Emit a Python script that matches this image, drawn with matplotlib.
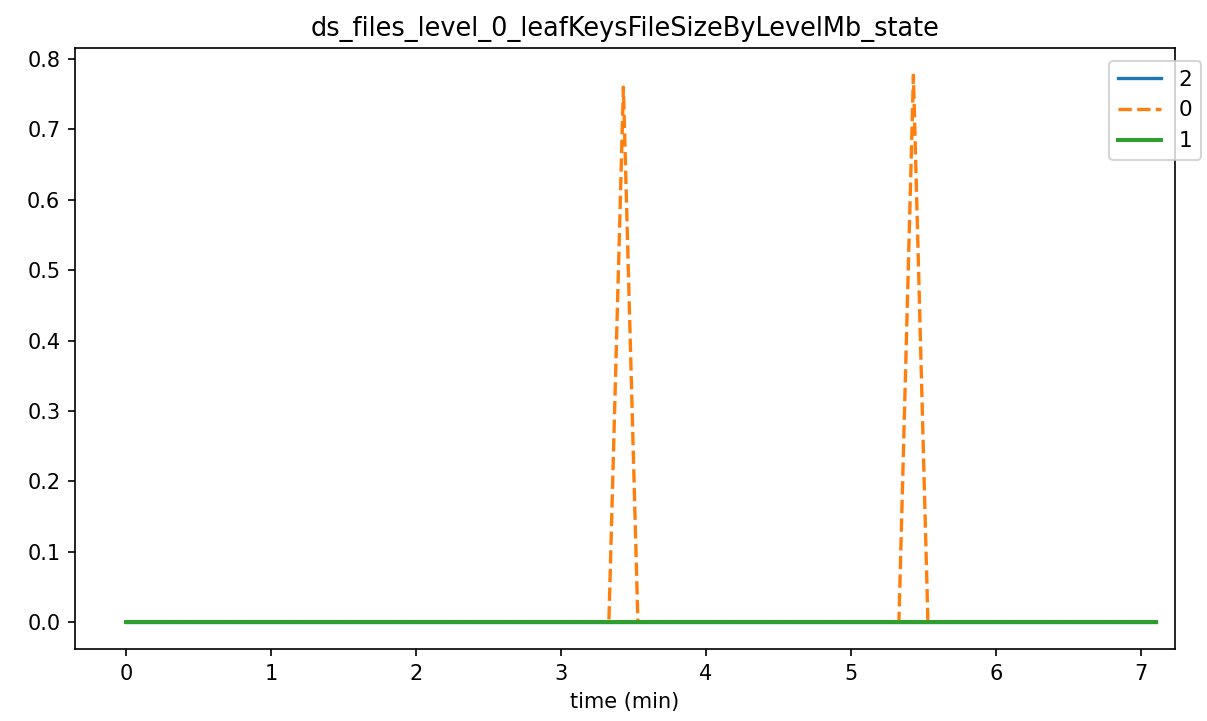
import matplotlib
matplotlib.use("Agg")
import matplotlib.pyplot as plt

# ── Data ──────────────────────────────────────────────────────────────────────
TITLE = "ds_files_level_0_leafKeysFileSizeByLevelMb_state"

time_2 = [0.0, 7.1]
vals_2 = [0.0, 0.0]

time_0 = [0.0, 3.33, 3.43, 3.53, 5.33, 5.43, 5.53, 7.1]
vals_0 = [0.0, 0.0, 0.76, 0.0, 0.0, 0.777, 0.0, 0.0]

time_1 = [0.0, 7.1]
vals_1 = [0.0, 0.0]

# ── Plot ──────────────────────────────────────────────────────────────────────
fig = plt.figure(figsize=(1207 / 150, 721 / 150), dpi=150)
ax = fig.add_axes([0.0621, 0.0999, 0.9114, 0.8335])

ax.plot(time_2, vals_2, color="#1f77b4", lw=1.6, label="2")
ax.plot(time_0, vals_0, color="#ff7f0e", lw=1.6, dashes=(4, 1.6), label="0")
ax.plot(time_1, vals_1, color="#2ca02c", lw=1.9, label="1")

ax.set_title(TITLE, fontsize=12.3)
ax.set_xlabel("time (min)")
ax.set_xlim(-0.352, 7.234)
ax.set_ylim(-0.0384, 0.8157)
ax.set_xticks(range(0, 8))
ax.set_yticks([i / 10 for i in range(0, 9)])
ax.legend(loc="upper right", bbox_to_anchor=(0.995, 0.9154),
          bbox_transform=fig.transFigure, borderaxespad=0, fontsize=10.4)

fig.savefig("out.png", dpi=150)
